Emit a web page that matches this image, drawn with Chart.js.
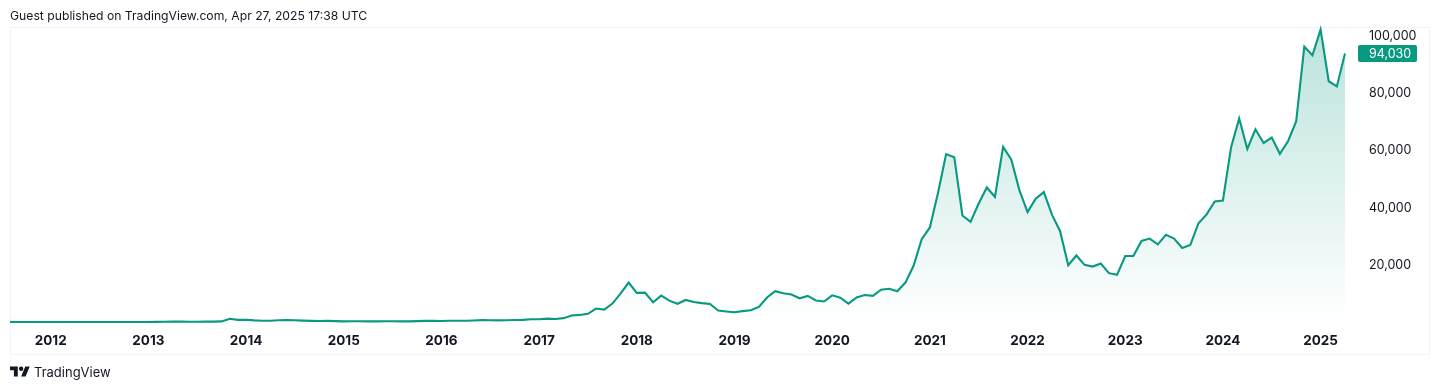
<!DOCTYPE html>
<html>
<head>
<meta charset="utf-8">
<script src="https://cdn.jsdelivr.net/npm/chart.js@4"></script>
<style>
html,body{margin:0;padding:0;background:#fff;width:1440px;height:390px;overflow:hidden;font-family:Inter,"Liberation Sans",sans-serif;color:#131722}
#wrap{position:relative;width:1440px;height:390px}
canvas{position:absolute;left:0;top:0}
#pane{position:absolute;left:10px;top:27px;width:1418px;height:326px;border:1px solid #f0f3fa;box-sizing:content-box}
#head{position:absolute;left:10px;top:8px;font-size:12.2px;line-height:16px;white-space:nowrap}
#brand{position:absolute;left:10px;top:364px;height:16px;display:flex;align-items:center;font-size:13px;line-height:16px}
#brand svg{width:20px;height:16px;margin-right:4px}
</style>
</head>
<body>
<div id="wrap">
<div id="pane"></div>
<canvas id="c" width="1440" height="390"></canvas>
<div id="head">Guest published on TradingView.com, Apr 27, 2025 17:38 UTC</div>
<div id="brand"><svg viewBox="0 0 36 28"><path fill="#131722" d="M14 22H7V11H0V4h14v18zM28 22h-8l7.5-18h8L28 22z"/><circle cx="20" cy="8" r="4" fill="#131722"/></svg>TradingView</div>
</div>
<script>
const startYear = 2011;
const startMonth = 8;
const closes2011 = [8, 5, 3, 3, 4.7];
const closes2012 = [5.5, 4.9, 4.9, 5, 5.2, 6.7, 9.3, 10, 12.4, 11.2, 12.5, 13.5];
const closes2013 = [20, 33, 93, 139, 129, 97, 106, 135, 133, 204, 1130, 750];
const closes2014 = [800, 570, 450, 450, 630, 640, 590, 480, 390, 340, 380, 320];
const closes2015 = [220, 250, 245, 235, 230, 265, 285, 230, 235, 315, 380, 430];
const closes2016 = [370, 435, 415, 450, 530, 670, 620, 575, 610, 700, 745, 965];
const closes2017 = [970, 1190, 1070, 1350, 2300, 2480, 2870, 4700, 4340, 6450, 9950, 13800];
const closes2018 = [10200, 10300, 6900, 9240, 7490, 6390, 7730, 7020, 6600, 6300, 4000, 3700];
const closes2019 = [3430, 3810, 4090, 5270, 8570, 10800, 10080, 9600, 8300, 9150, 7550, 7190];
const closes2020 = [9350, 8520, 6410, 8620, 9450, 9140, 11330, 11650, 10780, 13800, 19700, 29000];
const closes2021 = [33100, 45200, 58800, 57700, 37300, 35050, 41500, 47100, 43800, 61300, 56900, 46200];
const closes2022 = [38500, 43200, 45500, 37600, 31800, 19900, 23300, 20000, 19400, 20500, 17100, 16500];
const closes2023 = [23100, 23100, 28400, 29200, 27200, 30500, 29200, 25900, 27000, 34600, 37700, 42200];
const closes2024 = [42500, 61100, 71300, 60600, 67500, 62700, 64600, 58900, 63300, 70200, 96400, 93400];
const closes2025 = [102400, 84300, 82500, 94030];
const closes = [].concat(closes2011, closes2012, closes2013, closes2014, closes2015, closes2016, closes2017, closes2018, closes2019, closes2020, closes2021, closes2022, closes2023, closes2024, closes2025);
const months = closes.map((_, i) => {
  const m = startMonth - 1 + i;
  return (startYear + Math.floor(m / 12)) + '-' + String(m % 12 + 1).padStart(2, '0');
});
const yTicks = [20000, 40000, 60000, 80000, 100000];
const lastValue = 94030;
const lineColor = '#089981';
const fontFam = 'Inter, "Liberation Sans", sans-serif';

const priceTag = {
  id: 'priceTag',
  afterDraw(chart) {
    const ctx = chart.ctx, y = chart.scales.y.getPixelForValue(lastValue);
    ctx.save();
    ctx.fillStyle = lineColor;
    ctx.beginPath();
    ctx.roundRect(1358, y - 8.5, 59, 17, 2);
    ctx.fill();
    ctx.fillStyle = '#ffffff';
    ctx.font = '12.5px ' + fontFam;
    ctx.textBaseline = 'middle';
    ctx.textAlign = 'left';
    ctx.fillText(lastValue.toLocaleString('en-US'), 1369, y + 0.5);
    ctx.restore();
  }
};

new Chart(document.getElementById('c'), {
  type: 'line',
  data: {
    labels: months,
    datasets: [{
      data: closes,
      borderColor: lineColor,
      borderWidth: 2.1,
      pointRadius: 0,
      tension: 0,
      clip: false,
      fill: 'start',
      backgroundColor(ctx) {
        const a = ctx.chart.chartArea;
        if (!a) return 'rgba(8,153,129,0.1)';
        const g = ctx.chart.ctx.createLinearGradient(0, a.top, 0, a.bottom);
        g.addColorStop(0, 'rgba(8,153,129,0.28)');
        g.addColorStop(1, 'rgba(8,153,129,0)');
        return g;
      }
    }]
  },
  options: {
    responsive: false,
    animation: false,
    layout: { padding: { left: 10, top: 27, right: 0, bottom: 0 } },
    plugins: { legend: { display: false }, tooltip: { enabled: false } },
    scales: {
      x: {
        type: 'category',
        offset: false,
        grid: { display: false, drawTicks: false },
        border: { display: false },
        afterBuildTicks(axis) { axis.ticks = axis.ticks.filter(t => months[t.value].endsWith('-01')); },
        afterFit(axis) { axis.height = 68; axis.paddingLeft = 0; axis.paddingRight = 0; },
        ticks: {
          autoSkip: false, maxRotation: 0, minRotation: 0, padding: 11,
          color: '#131722',
          font: { family: fontFam, size: 13.5, weight: '700' },
          callback(v) { return months[v].slice(0, 4); }
        }
      },
      y: {
        position: 'right',
        min: 0,
        max: 103300,
        grid: { display: false, drawTicks: false },
        border: { display: false },
        afterBuildTicks(axis) { axis.ticks = yTicks.map(v => ({ value: v })); },
        afterFit(axis) { axis.width = 95; axis.paddingTop = 0; axis.paddingBottom = 0; },
        ticks: {
          padding: 24,
          color: '#131722',
          font: { family: fontFam, size: 12.5 },
          callback(v) { return v.toLocaleString('en-US'); }
        }
      }
    }
  },
  plugins: [priceTag]
});
</script>
</body>
</html>
